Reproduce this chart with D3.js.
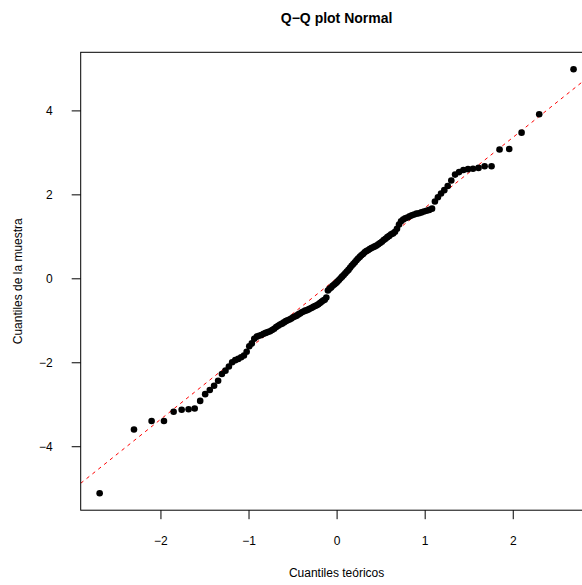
<html>
  <head>
    <meta charset="utf-8">
    <style>
      body { margin: 0; background: #fff; }
      svg { display: block; font-family: "Liberation Sans", Arial, sans-serif; }
      .tick text { font-size: 12px; fill: #000; }
      .tick line { stroke: #000; }
    </style>
  </head>
  <body>
    <script src="https://d3js.org/d3.v7.min.js"></script>
    <script>
    // dimensions of the R-like device
    var width = 582, height = 585;
    var mLeft = 80.7, mRight = 592.5, mTop = 52.3, mBottom = 510.2;

    // sorted sample values (n = 140)
    var muestra = [
      -5.12, -3.60, -3.40, -3.40, -3.18, -3.13, -3.12, -3.10, -2.92, -2.76,
      -2.66, -2.56, -2.44, -2.28, -2.20, -2.10, -2.00, -1.95, -1.92, -1.88,
      -1.84, -1.75, -1.62, -1.55, -1.44, -1.39, -1.37, -1.35, -1.32, -1.30,
      -1.28, -1.26, -1.23, -1.20, -1.16, -1.13, -1.10, -1.08, -1.05, -1.02,
      -1.00, -0.98, -0.96, -0.93, -0.91, -0.89, -0.86, -0.84, -0.81, -0.79,
      -0.77, -0.76, -0.74, -0.72, -0.70, -0.68, -0.66, -0.64, -0.62, -0.59,
      -0.56, -0.53, -0.51, -0.46, -0.29, -0.25, -0.22, -0.18, -0.15, -0.12,
      -0.08, -0.04, 0.00, 0.04, 0.08, 0.12, 0.16, 0.20, 0.25, 0.30,
      0.34, 0.38, 0.43, 0.47, 0.51, 0.55, 0.58, 0.62, 0.65, 0.67,
      0.70, 0.72, 0.74, 0.76, 0.78, 0.81, 0.84, 0.87, 0.91, 0.94,
      0.98, 1.01, 1.05, 1.07, 1.11, 1.18, 1.28, 1.36, 1.40, 1.43,
      1.45, 1.48, 1.50, 1.52, 1.54, 1.55, 1.57, 1.59, 1.61, 1.63,
      1.66, 1.83, 1.93, 2.02, 2.10, 2.20, 2.33, 2.47, 2.53, 2.58,
      2.60, 2.61, 2.63, 2.67, 2.67, 3.07, 3.08, 3.47, 3.91, 4.98
    ];

    var xTicks = [-2, -1, 0, 1, 2];
    var yTicks = [-4, -2, 0, 2, 4];

    var titulo = "Q\u2212Q plot Normal";
    var xTitulo = "Cuantiles te\u00f3ricos";
    var yTitulo = "Cuantiles de la muestra";

    // inverse normal cdf (Acklam), as qqnorm uses qnorm(ppoints(n))
    function qnorm(p) {
      var a = [-39.69683028665376, 220.9460984245205, -275.9285104469687, 138.3577518672690, -30.66479806614716, 2.506628277459239];
      var b = [-54.47609879822406, 161.5858368580409, -155.6989798598866, 66.80131188771972, -13.28068155288572];
      var c = [-0.007784894002430293, -0.3223964580411365, -2.400758277161838, -2.549732539343734, 4.374664141464968, 2.938163982698783];
      var d = [0.007784695709041462, 0.3224671290700398, 2.445134137142996, 3.754408661907416];
      var q, r;
      if (p < 0.02425) {
        q = Math.sqrt(-2 * Math.log(p));
        return (((((c[0]*q+c[1])*q+c[2])*q+c[3])*q+c[4])*q+c[5]) / ((((d[0]*q+d[1])*q+d[2])*q+d[3])*q+1);
      }
      if (p > 1 - 0.02425) {
        q = Math.sqrt(-2 * Math.log(1 - p));
        return -(((((c[0]*q+c[1])*q+c[2])*q+c[3])*q+c[4])*q+c[5]) / ((((d[0]*q+d[1])*q+d[2])*q+d[3])*q+1);
      }
      q = p - 0.5; r = q * q;
      return (((((a[0]*r+a[1])*r+a[2])*r+a[3])*r+a[4])*r+a[5])*q / (((((b[0]*r+b[1])*r+b[2])*r+b[3])*r+b[4])*r+1);
    }

    var n = muestra.length;
    var puntos = muestra.map(function(v, i) {
      return { x: qnorm((i + 1 - 0.5) / n), y: v };
    });

    // R style 4% range extension
    function ext(e) { var r = e[1] - e[0]; return [e[0] - 0.04 * r, e[1] + 0.04 * r]; }

    var x = d3.scaleLinear().domain(ext(d3.extent(puntos, function(d) { return d.x; }))).range([mLeft, mRight]);
    var y = d3.scaleLinear().domain(ext(d3.extent(muestra))).range([mBottom, mTop]);

    //the svg that we draw in
    var svg = d3.select("body")
        .append("svg")
        .attr("width", width)
        .attr("height", height);

    svg.append("rect").attr("width", width).attr("height", height).attr("fill", "#fff");

    // qqline through the quartiles
    var q1 = d3.quantile(muestra, 0.25), q3 = d3.quantile(muestra, 0.75);
    var z1 = qnorm(0.25), z3 = qnorm(0.75);
    var pend = (q3 - q1) / (z3 - z1), inter = q1 - pend * z1;
    var xd = x.domain();

    svg.append("defs").append("clipPath").attr("id", "plotclip")
      .append("rect").attr("x", mLeft).attr("y", mTop).attr("width", mRight - mLeft).attr("height", mBottom - mTop);

    svg.append("g").attr("clip-path", "url(#plotclip)")
      .append("line")
        .attr("x1", x(xd[0])).attr("y1", y(inter + pend * xd[0]))
        .attr("x2", x(xd[1])).attr("y2", y(inter + pend * xd[1]))
        .attr("stroke", "#ff0000")
        .attr("stroke-width", 1)
        .attr("stroke-dasharray", "3.5,4");

    svg.append("g").selectAll("circle")
      .data(puntos)
      .enter().append("circle")
        .attr("cx", function(d) { return x(d.x); })
        .attr("cy", function(d) { return y(d.y); })
        .attr("r", 3.3)
        .attr("fill", "#000");

    // axes
    var fmt = d3.format("d");
    var gx = svg.append("g").attr("transform", "translate(0," + mBottom + ")")
      .call(d3.axisBottom(x).tickValues(xTicks).tickFormat(fmt).tickSize(9).tickPadding(17));
    gx.select(".domain").remove();

    var gy = svg.append("g").attr("transform", "translate(" + mLeft + ",0)")
      .call(d3.axisLeft(y).tickValues(yTicks).tickFormat(fmt).tickSize(9).tickPadding(19));
    gy.select(".domain").remove();

    // box
    svg.append("rect")
      .attr("x", mLeft).attr("y", mTop)
      .attr("width", mRight - mLeft).attr("height", mBottom - mTop)
      .attr("fill", "none").attr("stroke", "#000").attr("stroke-width", 1);

    var cx = (mLeft + mRight) / 2;
    svg.append("text").attr("x", cx).attr("y", 23)
      .attr("text-anchor", "middle").attr("font-size", 14).attr("font-weight", "bold")
      .text(titulo);

    svg.append("text").attr("x", cx).attr("y", 577)
      .attr("text-anchor", "middle").attr("font-size", 12)
      .text(xTitulo);

    svg.append("text")
      .attr("transform", "translate(22," + ((mTop + mBottom) / 2) + ") rotate(-90)")
      .attr("text-anchor", "middle").attr("font-size", 12)
      .text(yTitulo);
    </script>
  </body>
</html>
